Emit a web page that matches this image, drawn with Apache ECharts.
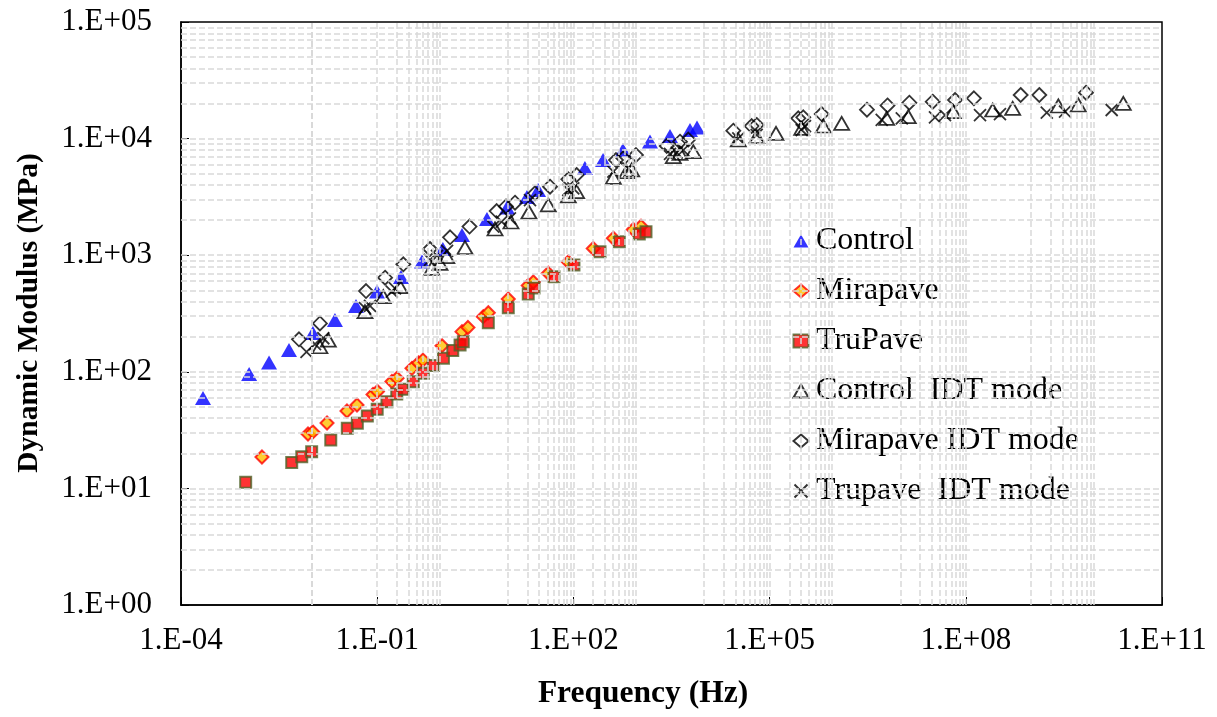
<!DOCTYPE html>
<html><head><meta charset="utf-8">
<script src="https://cdn.jsdelivr.net/npm/echarts@6/dist/echarts.min.js"></script>
<style>html,body{margin:0;padding:0;background:#fff}#c{width:1217px;height:717px}</style>
</head><body><div id="c"></div>
<script>
// ---- tick labels ----
const xTickValues = [1e-4, 1e-1, 1e2, 1e5, 1e8, 1e11];
const xTickLabels = ['1.E-04', '1.E-01', '1.E+02', '1.E+05', '1.E+08', '1.E+11'];
const yTickValues = [1, 10, 100, 1000, 10000, 100000];
const yTickLabels = ['1.E+00', '1.E+01', '1.E+02', '1.E+03', '1.E+04', '1.E+05'];
const seriesNames = ['Control', 'Mirapave', 'TruPave', 'Control  IDT mode', 'Mirapave IDT mode', 'Trupave  IDT mode'];

// ---- data: frequency (Hz) and dynamic modulus (MPa) ----
const controlFreq = [2.17e-4, 1.10e-3, 2.22e-3, 4.48e-3, 0.0104, 0.0226, 0.0474, 0.0993, 0.231, 0.484, 1.01, 1.98, 4.77, 9.66, 19.5, 28.8, 150, 284, 573, 1483, 3000, 6067, 7762];
const controlMod  = [59.6, 95.7, 120, 154, 215, 278, 367, 488, 650, 883, 1130, 1490, 2044, 2566, 3157, 3624, 5597, 6550, 7980, 9440, 10520, 11850, 12450];

const mirapaveFreq = [1.73e-3, 8.75e-3, 0.0104, 0.0171, 0.0345, 0.0491, 0.0863, 0.101, 0.168, 0.201, 0.340, 0.428, 0.501, 0.980, 1.98, 2.44, 4.19, 5.00, 10.1, 20.4, 24.4, 41.3, 83.6, 201, 408, 824, 1081];
const mirapaveMod  = [18.6, 29.3, 30.5, 36.4, 46.1, 51.9, 63.9, 67.8, 82.6, 88.0, 107, 119, 126, 167, 221, 240, 297, 321, 421, 550, 589, 700, 875, 1141, 1396, 1660, 1770];

const trupaveFreq = [9.75e-4, 4.93e-3, 7.02e-3, 9.95e-3, 0.0195, 0.0349, 0.0497, 0.0707, 0.100, 0.141, 0.199, 0.248, 0.356, 0.507, 0.721, 1.03, 1.43, 1.85, 2.07, 5.00, 10.1, 20.4, 25.0, 50.5, 102, 255, 504, 1018, 1288];
const trupaveMod  = [11.3, 16.7, 18.7, 20.6, 26.0, 32.8, 36.2, 41.8, 47.7, 55.4, 64.5, 70.8, 82.2, 97.1, 113, 131, 152, 170, 181, 264, 355, 465, 523, 654, 824, 1072, 1306, 1520, 1592];

const controlIdtFreq = [0.0133, 0.0179, 0.0650, 0.124, 0.223, 0.681, 0.912, 1.16, 2.20, 6.33, 11.1, 20.9, 41.3, 83.6, 112, 408, 653, 779, 3370, 4266, 6810, 33200, 63500, 125300, 309700, 662000, 1.265e6, 6.17e6, 1.32e7, 6.44e7, 2.58e8, 5.21e8, 2.60e9, 5.25e9, 2.56e10];
const controlIdtMod  = [164, 187, 328, 441, 537, 772, 852, 971, 1164, 1678, 1927, 2346, 2697, 3219, 3505, 4656, 5200, 5380, 7000, 7480, 7730, 9730, 10380, 11100, 12250, 12820, 13530, 14930, 15410, 17010, 17590, 18190, 19040, 19420, 20080];

const mirapaveIdtFreq = [6.37e-3, 0.0133, 0.0675, 0.132, 0.251, 0.641, 1.30, 2.58, 6.71, 9.31, 12.8, 25.9, 43.9, 83.6, 112, 448, 580, 906, 2672, 4266, 5715, 27860, 53210, 63530, 274800, 327400, 626500, 3.08e6, 6.35e6, 1.37e7, 3.12e7, 6.84e7, 1.33e8, 6.90e8, 1.33e9, 6.89e9];
const mirapaveIdtMod  = [190, 260, 493, 641, 836, 1130, 1425, 1762, 2393, 2617, 2820, 3396, 3870, 4478, 4873, 6550, 6780, 7230, 8650, 9400, 9820, 11690, 12820, 13090, 14930, 15240, 16250, 17700, 19230, 20320, 20720, 21430, 22170, 23660, 23660, 24760];

const trupaveIdtFreq = [8.30e-3, 0.0112, 0.0150, 0.0650, 0.0776, 0.167, 0.187, 0.641, 0.820, 1.17, 5.96, 8.01, 10.7, 21.7, 83.6, 99.6, 408, 690, 3000, 3800, 4790, 33200, 63500, 309700, 347600, 5.18e6, 1.05e7, 3.38e7, 4.81e7, 1.65e8, 3.33e8, 1.73e9, 3.29e9, 1.70e10];
const trupaveIdtMod  = [148, 173, 194, 351, 367, 486, 520, 910, 985, 1087, 1755, 1938, 2072, 2973, 3624, 3749, 5200, 5560, 7380, 7570, 7980, 10060, 10740, 11850, 12820, 14450, 14930, 15240, 15930, 15930, 16250, 16680, 17010, 17590];

// ---- gridline spec (as in the source chart) ----
const xGridMajor = [1e-1, 1e2, 1e5, 1e8];
const xGridMinorGroups = [[-3, 2], [-1, 2], [1, 1], [2, 2], [4, 1], [5, 2], [7, 1], [9, 1]]; // [decade exponent, first multiplier]
const yGridMajor = [10, 100, 1000, 10000];
const yGridMinorDecades = [0, 1, 2, 3, 4];

const zip = (a, b) => a.map((v, i) => [v, b[i]]);

const xGrid = xGridMajor.slice();
xGridMinorGroups.forEach(([e, k0]) => { for (let k = k0; k <= 9; k++) xGrid.push(k * Math.pow(10, e)); });
const yGrid = yGridMajor.slice();
yGridMinorDecades.forEach(e => { for (let k = 2; k <= 9; k++) yGrid.push(k * Math.pow(10, e)); });

const FONT = 'Liberation Serif';
const fmt = (vals, labels) => v => {
  for (let i = 0; i < vals.length; i++) if (Math.abs(Math.log10(v) - Math.log10(vals[i])) < 1e-6) return labels[i];
  return '';
};

const chart = echarts.init(document.getElementById('c'), null, { renderer: 'canvas' });
chart.setOption({
  animation: false,
  backgroundColor: '#fff',
  grid: { left: 181, right: 55, top: 22, bottom: 112, show: true, borderColor: '#000', borderWidth: 1.5, containLabel: false },
  xAxis: {
    type: 'log', logBase: 10, min: 1e-4, max: 1e11, interval: 3,
    axisLine: { show: true, onZero: false, lineStyle: { color: '#000', width: 1.5 } },
    axisTick: { show: true, inside: true, length: 8, lineStyle: { color: '#000', width: 1 } },
    splitLine: { show: false }, minorTick: { show: false },
    axisLabel: { color: '#000', fontFamily: FONT, fontSize: 31, margin: 20, formatter: fmt(xTickValues, xTickLabels) }
  },
  yAxis: {
    type: 'log', logBase: 10, min: 1, max: 1e5, interval: 1,
    axisLine: { show: true, onZero: false, lineStyle: { color: '#000', width: 1.5 } },
    axisTick: { show: true, inside: true, length: 8, lineStyle: { color: '#000', width: 1 } },
    splitLine: { show: false },
    axisLabel: { color: '#000', fontFamily: FONT, fontSize: 31, margin: 29, formatter: fmt(yTickValues, yTickLabels) }
  },
  legend: {
    orient: 'vertical', left: 777, top: 214, padding: [11, 6, 6, 15.5], itemGap: 18,
    itemWidth: 15, itemHeight: 13, backgroundColor: '#fff',
    textStyle: { fontFamily: FONT, fontSize: 32, color: '#000', lineHeight: 32, padding: [0, 0, 0, 2.5] },
    data: seriesNames
  },
  graphic: [
    { type: 'text', x: 643, y: 694, style: { text: 'Frequency (Hz)', font: 'bold 31.5px "Liberation Serif"', fill: '#000', align: 'center', verticalAlign: 'middle' } },
    { type: 'text', x: 29, y: 313, rotation: Math.PI / 2, style: { text: 'Dynamic Modulus (MPa)', font: 'bold 29.5px "Liberation Serif"', fill: '#000', align: 'center', verticalAlign: 'middle' } }
  ],
  series: [
    { name: '_grid', type: 'scatter', data: [], z: 1, silent: true,
      markLine: { silent: true, symbol: ['none', 'none'], animation: false, label: { show: false },
        lineStyle: { color: '#d9d9d9', type: [6, 3], width: 1.5 },
        emphasis: { disabled: true },
        data: xGrid.map(v => ({ xAxis: v })).concat(yGrid.map(v => ({ yAxis: v }))) } },
    { name: seriesNames[0], type: 'scatter', data: zip(controlFreq, controlMod), symbol: 'triangle', symbolSize: [16, 14],
      itemStyle: { color: '#0000FF' } },
    { name: seriesNames[1], type: 'scatter', data: zip(mirapaveFreq, mirapaveMod), symbol: 'diamond', symbolSize: 13,
      itemStyle: { color: '#FFC000', borderColor: '#FF0000', borderWidth: 2 } },
    { name: seriesNames[2], type: 'scatter', data: zip(trupaveFreq, trupaveMod), symbol: 'rect', symbolSize: 11,
      itemStyle: { color: '#FF0000', borderColor: '#4F6228', borderWidth: 2 } },
    { name: seriesNames[3], type: 'scatter', data: zip(controlIdtFreq, controlIdtMod), symbol: 'triangle', symbolSize: [15, 13],
      itemStyle: { color: 'rgba(255,255,255,0)', borderColor: '#000', borderWidth: 1.8 } },
    { name: seriesNames[4], type: 'scatter', data: zip(mirapaveIdtFreq, mirapaveIdtMod), symbol: 'diamond', symbolSize: 14,
      itemStyle: { color: 'rgba(255,255,255,0)', borderColor: '#000', borderWidth: 1.8 } },
    { name: seriesNames[5], type: 'scatter', data: zip(trupaveIdtFreq, trupaveIdtMod), symbol: 'path://M0,0L10,10M0,10L10,0', symbolSize: 12,
      itemStyle: { color: 'rgba(255,255,255,0)', borderColor: '#000', borderWidth: 1.8 } }
  ]
});
</script>
</body></html>
